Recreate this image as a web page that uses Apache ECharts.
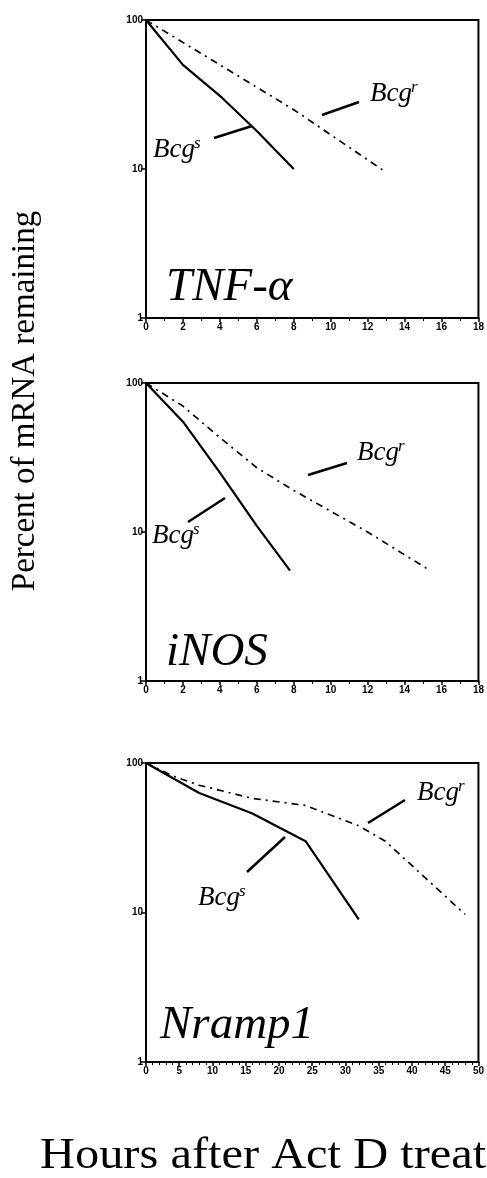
<!DOCTYPE html>
<html><head><meta charset="utf-8">
<script src="https://cdn.jsdelivr.net/npm/echarts@6/dist/echarts.min.js"></script>
<style>html,body{margin:0;padding:0;background:#fff}#c{width:487px;height:1178px}</style>
</head><body><div id="c"></div>
<script>
// ---- data (hours after Act D, percent mRNA remaining) ----
const tnfHoursS = [0, 2, 4, 6, 8];
const tnfS      = [100, 50, 31, 18, 10];
const tnfHoursR = [0, 4, 8, 13];
const tnfR      = [100, 50, 25, 9.5];

const inosHoursS = [0, 2, 4, 6, 7.8];
const inosS      = [100, 55, 25, 11, 5.5];
const inosHoursR = [0, 2, 4, 6, 8, 12, 15.4];
const inosR      = [100, 70, 43, 27, 19, 10, 5.5];

const nrampHoursS = [0, 8, 16, 24, 32];
const nrampS      = [100, 63, 46, 30, 9];
const nrampHoursR = [0, 4, 8, 16, 24, 32, 36, 48];
const nrampR      = [100, 82, 71, 58, 52, 38, 30, 9.7];

const panelNames = ['TNF-α', 'iNOS', 'Nramp1'];
const xMax = [18, 18, 50];
const xStep = [2, 2, 5];
const yTitle = 'Percent of mRNA remaining';
const xTitle = 'Hours after Act D treat';
// ---------------------------------------------------------

const zip = (a, b) => a.map((v, i) => [v, b[i]]);
const panels = [
  [zip(tnfHoursS, tnfS), zip(tnfHoursR, tnfR)],
  [zip(inosHoursS, inosS), zip(inosHoursR, inosR)],
  [zip(nrampHoursS, nrampS), zip(nrampHoursR, nrampR)]
];

const gridBoxes = [
  {left: 146, top: 20, width: 334, height: 298},
  {left: 146, top: 383, width: 333, height: 298},
  {left: 146, top: 763, width: 333, height: 299}
];

const tickFont = {fontSize: 10, fontWeight: 'bold', color: '#000', fontFamily: 'Liberation Sans'};
const serif = '"Liberation Serif", "Times New Roman", serif';

const grid = gridBoxes.map(g => Object.assign({show: true, borderColor: '#000', borderWidth: 2, backgroundColor: '#fff'}, g));
const xAxis = gridBoxes.map((g, i) => ({
  type: 'value', gridIndex: i, min: 0, max: xMax[i], interval: xStep[i],
  axisLine: {show: true, lineStyle: {color: '#000', width: 2}},
  axisTick: {show: true, length: 4, lineStyle: {color: '#000', width: 1.5}},
  minorTick: {show: true, splitNumber: i === 2 ? 5 : 2, length: 3, lineStyle: {color: '#000', width: 1}},
  splitLine: {show: false},
  axisLabel: Object.assign({margin: 4}, tickFont)
}));
const yAxis = gridBoxes.map((g, i) => ({
  type: 'log', logBase: 10, gridIndex: i, min: 1, max: 100,
  axisLine: {show: true, lineStyle: {color: '#000', width: 2}},
  axisTick: {show: true, length: 5, lineStyle: {color: '#000', width: 1.5}},
  minorTick: {show: false},
  splitLine: {show: false},
  axisLabel: Object.assign({margin: 3}, tickFont)
}));

const series = [];
panels.forEach((p, i) => {
  series.push({type: 'line', name: 'Bcg s', xAxisIndex: i, yAxisIndex: i, data: p[0],
    showSymbol: false, symbol: 'none', lineStyle: {color: '#000', width: 2.2}, silent: true, animation: false});
  series.push({type: 'line', name: 'Bcg r', xAxisIndex: i, yAxisIndex: i, data: p[1],
    showSymbol: false, symbol: 'none', lineStyle: {color: '#000', width: 1.7, type: [7, 5, 2, 5]}, silent: true, animation: false});
});

function txt(x, y, text, size, italic, extra) {
  return Object.assign({type: 'text', x: x, y: y, silent: true, z: 100,
    style: {text: text, x: 0, y: 0, fontSize: size, fontStyle: italic ? 'italic' : 'normal',
      fontFamily: serif, fill: '#000', textAlign: 'left', textVerticalAlign: 'middle'}}, extra || {});
}
function ln(x1, y1, x2, y2) {
  return {type: 'line', silent: true, z: 100, shape: {x1, y1, x2, y2}, style: {stroke: '#000', lineWidth: 2.5}};
}
function bcg(x, yMid, sup) {
  return [txt(x, yMid, 'Bcg', 27, true), txt(x + 41, yMid - 6, sup, 17, true)];
}

const graphic = [
  txt(166, 288, panelNames[0], 47, true),
  txt(166, 653, panelNames[1], 47, true),
  txt(160, 1026, panelNames[2], 47, true),
  ...bcg(370, 94, 'r'), ln(322, 115, 359, 102),
  ...bcg(153, 150, 's'), ln(214, 138, 252, 126),
  ...bcg(357, 453, 'r'), ln(308, 475, 347, 463),
  ...bcg(152, 536, 's'), ln(188, 522, 225, 498),
  ...bcg(417, 793, 'r'), ln(368, 823, 405, 800),
  ...bcg(198, 898, 's'), ln(247, 872, 285, 837),
  txt(25, 401, yTitle, 33, false, {rotation: Math.PI / 2, style: {text: yTitle, x: 0, y: 0, fontSize: 33,
    fontFamily: serif, fill: '#000', textAlign: 'center', textVerticalAlign: 'middle'}}),
  txt(40, 1156, xTitle, 44, false, {scaleX: 1.1})
];

const chart = echarts.init(document.getElementById('c'), null, {renderer: 'canvas'});
chart.setOption({animation: false, backgroundColor: '#fff', grid, xAxis, yAxis, series, graphic});
</script></body></html>
